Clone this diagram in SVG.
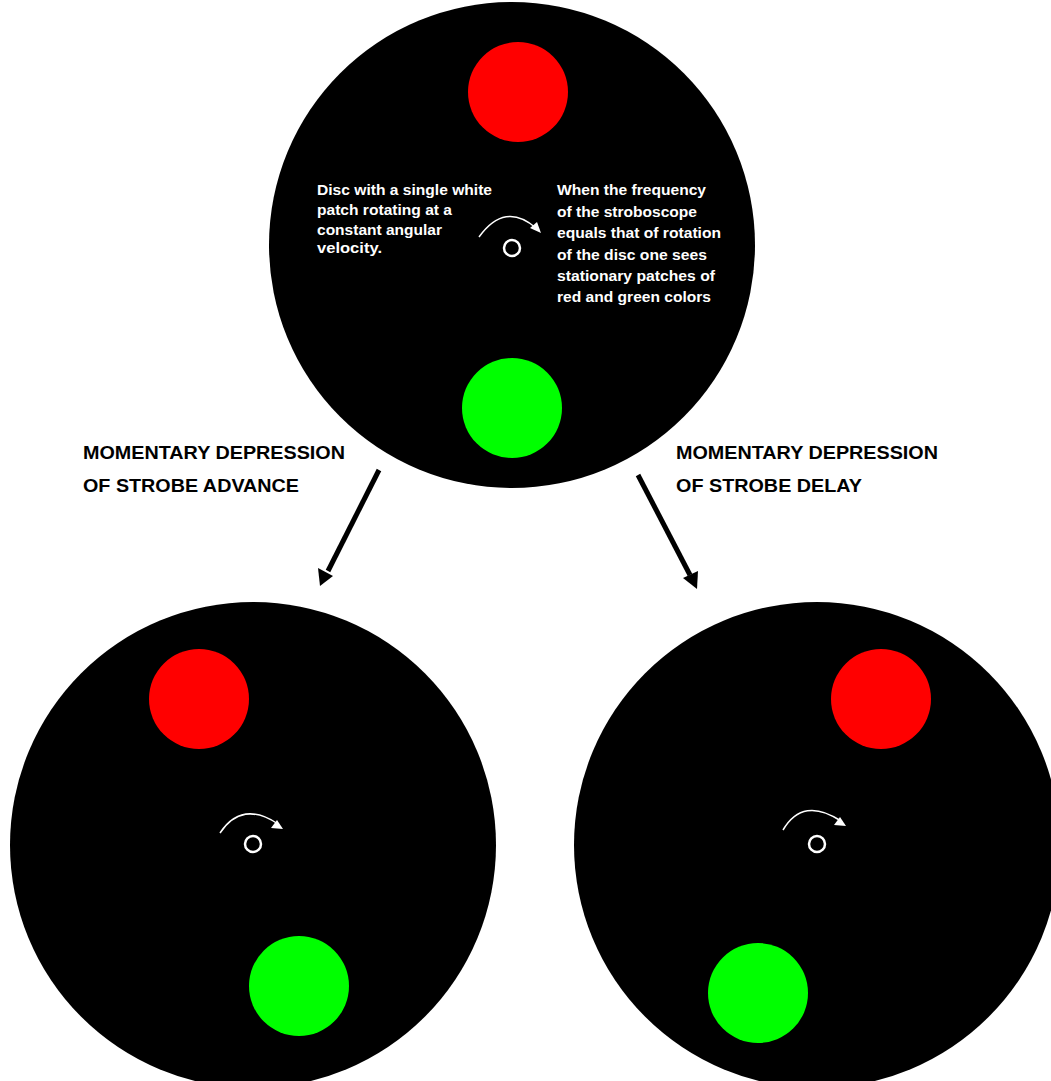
<svg xmlns="http://www.w3.org/2000/svg" width="1051" height="1081" viewBox="0 0 1051 1081">
<defs>
<style>
.disc{fill:#000}
.red{fill:#ff0000}
.green{fill:#00ff00}
.hub{fill:none;stroke:#fff;stroke-width:2.5}
.rot{fill:none;stroke:#fff;stroke-width:1.5}
.wt{fill:#fff;font-family:"Liberation Sans",Arial,sans-serif;font-weight:bold;font-size:15px}
.lbl{fill:#000;font-family:"Liberation Sans",Arial,sans-serif;font-weight:bold;font-size:18.5px}
.conn{stroke:#000;stroke-width:5;fill:none}
</style>
</defs>
<rect width="1051" height="1081" fill="#fff"/>
<g id="top-disc">
<circle class="disc" cx="512" cy="245" r="243"/>
<circle class="red" cx="518" cy="92" r="50"/>
<circle class="green" cx="512" cy="408" r="50"/>
<circle class="hub" cx="512" cy="248" r="8"/>
<path class="rot" d="M479,237 Q505,201 536,228"/>
<path d="M541,233 L530,228 L537,222 Z" fill="#fff"/>
<text class="wt" x="317" y="195" textLength="175" lengthAdjust="spacingAndGlyphs">Disc with a single white</text>
<text class="wt" x="317" y="215" textLength="135" lengthAdjust="spacingAndGlyphs">patch rotating at a</text>
<text class="wt" x="317" y="235" textLength="125" lengthAdjust="spacingAndGlyphs">constant angular</text>
<text class="wt" x="317" y="253" textLength="65" lengthAdjust="spacingAndGlyphs">velocity.</text>
<text class="wt" x="557" y="195" textLength="149" lengthAdjust="spacingAndGlyphs">When the frequency</text>
<text class="wt" x="557" y="216.5" textLength="140" lengthAdjust="spacingAndGlyphs">of the stroboscope</text>
<text class="wt" x="557" y="238" textLength="164" lengthAdjust="spacingAndGlyphs">equals that of rotation</text>
<text class="wt" x="557" y="259.5" textLength="150" lengthAdjust="spacingAndGlyphs">of the disc one sees</text>
<text class="wt" x="557" y="281" textLength="158" lengthAdjust="spacingAndGlyphs">stationary patches of</text>
<text class="wt" x="557" y="302" textLength="154" lengthAdjust="spacingAndGlyphs">red and green colors</text>
</g>
<g id="advance-disc">
<circle class="disc" cx="253" cy="845" r="243"/>
<circle class="red" cx="199" cy="699" r="50"/>
<circle class="green" cx="299" cy="986" r="50"/>
<circle class="hub" cx="253" cy="844" r="8"/>
<path class="rot" d="M220,833 Q242,800 278,824"/>
<path d="M283,829 L271,828 L277,820 Z" fill="#fff"/>
</g>
<g id="delay-disc">
<circle class="disc" cx="817" cy="845" r="243"/>
<circle class="red" cx="881" cy="699" r="50"/>
<circle class="green" cx="758" cy="993" r="50"/>
<circle class="hub" cx="817" cy="844" r="8"/>
<path class="rot" d="M783,830 Q803,796 841,821"/>
<path d="M846,826 L834,825 L840,817 Z" fill="#fff"/>
</g>
<g id="label-advance">
<text class="lbl" x="83" y="459" textLength="262" lengthAdjust="spacingAndGlyphs">MOMENTARY DEPRESSION</text>
<text class="lbl" x="83" y="492" textLength="216" lengthAdjust="spacingAndGlyphs">OF STROBE ADVANCE</text>
</g>
<g id="label-delay">
<text class="lbl" x="676" y="459" textLength="262" lengthAdjust="spacingAndGlyphs">MOMENTARY DEPRESSION</text>
<text class="lbl" x="676" y="492" textLength="186" lengthAdjust="spacingAndGlyphs">OF STROBE DELAY</text>
</g>
<g id="connectors">
<line class="conn" x1="379" y1="470" x2="328" y2="571"/>
<path d="M320,586 L318,568 L333,576 Z" fill="#000"/>
<line class="conn" x1="638" y1="475" x2="690" y2="575"/>
<path d="M697,589 L683,578 L698,571 Z" fill="#000"/>
</g>
</svg>
